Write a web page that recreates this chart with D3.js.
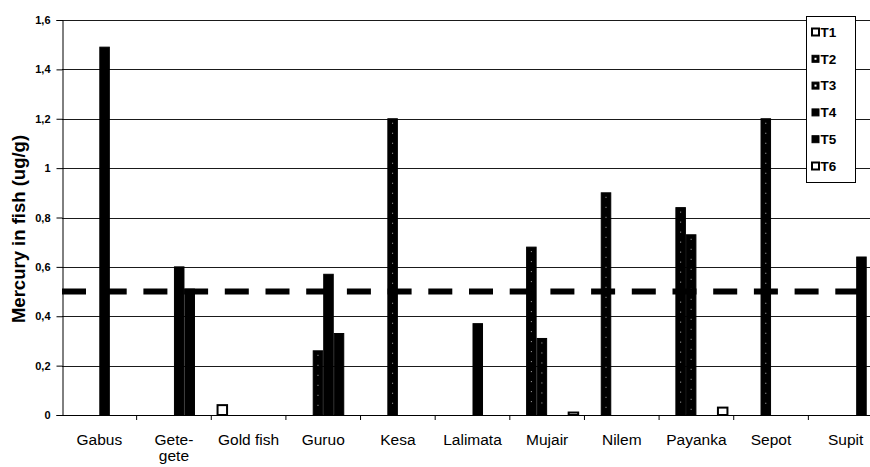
<!DOCTYPE html>
<html>
<head>
<meta charset="utf-8">
<script src="https://cdn.jsdelivr.net/npm/d3@7"></script>
<style>
  body { margin: 0; background: #fff; }
  svg { display: block; font-family: "Liberation Sans", Arial, sans-serif; }
</style>
</head>
<body>
<svg id="canvas" width="870" height="467"></svg>
<script>
const categories = ["Gabus", "Gete-gete", "Gold fish", "Guruo", "Kesa", "Lalimata", "Mujair", "Nilem", "Payanka", "Sepot", "Supit"]
const seriesNames = ["T1", "T2", "T3", "T4", "T5", "T6"]

// one value per category, null = no bar
const T1 = [null, null, 0.04, null, null, null, null, null, null, null, null]
const T2 = [null, null, null, null, null, null, 0.68, 0.90, 0.84, null, null]
const T3 = [null, null, null, 0.26, 1.20, null, 0.31, null, 0.73, 1.20, null]
const T4 = [1.49, 0.60, null, 0.57, null, 0.37, null, null, null, null, null]
const T5 = [null, 0.51, null, 0.33, null, null, null, null, null, null, 0.64]
const T6 = [null, null, null, null, null, null, 0.01, null, 0.03, null, null]

const limit = 0.5
const yTicks = [0, 0.2, 0.4, 0.6, 0.8, 1, 1.2, 1.4, 1.6]
const yTickLabels = ["0", "0,2", "0,4", "0,6", "0,8", "1", "1,2", "1,4", "1,6"]

const seriesValues = [T1, T2, T3, T4, T5, T6]
const fills = { T1: "#fff", T2: "#000", T3: "#000", T4: "#000", T5: "#000", T6: "#fff" }

let canvas = d3.select("#canvas")

let x = d3.scaleBand()
          .domain(categories)
          .range([62, 883])

let xSub = d3.scaleBand()
             .domain(seriesNames)
             .range([0, x.bandwidth()])
             .paddingOuter(0.55)

let y = d3.scaleLinear()
          .domain([0, 1.6])
          .range([415, 20])

// gridlines
canvas.append("g")
      .selectAll("line")
      .data(yTicks.slice(1))
      .enter()
      .append("line")
      .attr("x1", 62)
      .attr("x2", 870)
      .attr("y1", (d) => Math.round(y(d)) + 0.5)
      .attr("y2", (d) => Math.round(y(d)) + 0.5)
      .attr("stroke", "#1a1a1a")
      .attr("stroke-width", 1)

// y axis
let yAxis = d3.axisLeft(y)
              .tickValues(yTicks)
              .tickFormat((d, i) => yTickLabels[i])
              .tickSize(6)
              .tickPadding(6)

canvas.append("g")
      .attr("transform", "translate(62.5,0)")
      .call(yAxis)
      .call((g) => g.select(".domain").attr("stroke", "#000"))
      .call((g) => g.selectAll("text")
                    .attr("font-size", "11px")
                    .attr("font-weight", "bold")
                    .attr("fill", "#000")
                    .attr("font-family", "Liberation Sans, Arial, sans-serif"))

canvas.append("text")
      .attr("transform", "translate(25,229) rotate(-90)")
      .attr("text-anchor", "middle")
      .attr("font-size", "18.5px")
      .attr("font-weight", "bold")
      .text("Mercury in fish (ug/g)")

// bars
let rows = []
categories.forEach((c, i) => {
  seriesNames.forEach((s, j) => {
    let v = seriesValues[j][i]
    if (v !== null) rows.push({ category: c, series: s, value: v })
  })
})

let barG = canvas.append("g")

barG.selectAll("rect")
    .data(rows)
    .enter()
    .append("rect")
    .attr("x", (d) => x(d.category) + xSub(d.series) + 0.5)
    .attr("y", (d) => y(d.value))
    .attr("width", xSub.bandwidth() - 1)
    .attr("height", (d) => y(0) - y(d.value))
    .attr("fill", (d) => fills[d.series])
    .attr("stroke", "#000")
    .attr("stroke-width", (d) => fills[d.series] === "#fff" ? 2 : 1)

// speckle down the middle of the T2 / T3 bars
barG.selectAll("line")
    .data(rows.filter((d) => d.series === "T2" || d.series === "T3"))
    .enter()
    .append("line")
    .attr("x1", (d) => x(d.category) + xSub(d.series) + xSub.bandwidth() / 2)
    .attr("x2", (d) => x(d.category) + xSub(d.series) + xSub.bandwidth() / 2)
    .attr("y1", (d) => y(d.value) + 4)
    .attr("y2", (d) => y(0) - 4)
    .attr("stroke", "#fff")
    .attr("stroke-width", 1)
    .attr("stroke-dasharray", "1,9")
    .attr("opacity", 0.7)

// x axis
canvas.append("line")
      .attr("x1", 62)
      .attr("x2", 870)
      .attr("y1", y(0) + 0.5)
      .attr("y2", y(0) + 0.5)
      .attr("stroke", "#000")

canvas.append("g")
      .selectAll("line")
      .data(categories)
      .enter()
      .append("line")
      .attr("x1", (d) => x(d) + x.bandwidth())
      .attr("x2", (d) => x(d) + x.bandwidth())
      .attr("y1", y(0))
      .attr("y2", y(0) + 5)
      .attr("stroke", "#000")

let labels = canvas.append("g")
                   .selectAll("text")
                   .data(categories)
                   .enter()
                   .append("text")
                   .attr("x", (d) => x(d) + x.bandwidth() / 2)
                   .attr("y", y(0) + 30)
                   .attr("text-anchor", "middle")
                   .attr("font-size", "15.5px")

labels.each(function(d) {
  let parts = d.includes("-") ? [d.slice(0, d.indexOf("-") + 1), d.slice(d.indexOf("-") + 1)] : [d]
  let t = d3.select(this)
  parts.forEach((p, i) => {
    t.append("tspan")
     .attr("x", x(d) + x.bandwidth() / 2)
     .attr("dy", i === 0 ? 0 : 15.5)
     .text(p)
  })
})

// limit line
canvas.append("line")
      .attr("x1", 62)
      .attr("x2", 883)
      .attr("y1", y(limit))
      .attr("y2", y(limit))
      .attr("stroke", "#000")
      .attr("stroke-width", 6)
      .attr("stroke-dasharray", "24,16.7")

// legend
let legend = canvas.append("g")

legend.append("rect")
      .attr("x", 806.5)
      .attr("y", 16.5)
      .attr("width", 49)
      .attr("height", 166)
      .attr("fill", "#fff")
      .attr("stroke", "#000")

const g = legend.selectAll("g.item")
                .data(seriesNames)
                .enter()
                .append("g")
                .attr("class", "item")
                .attr("transform", (d, i) => "translate(0," + (32 + i * 26.8) + ")")

g.append("rect")
 .attr("x", 812)
 .attr("y", -3.5)
 .attr("width", 7)
 .attr("height", 7)
 .attr("fill", (d) => fills[d])
 .attr("stroke", "#000")
 .attr("stroke-width", (d) => fills[d] === "#fff" ? 2 : 1)

g.filter((d) => d === "T2" || d === "T3")
 .append("rect")
 .attr("x", 814.5)
 .attr("y", -1)
 .attr("width", 2)
 .attr("height", 2)
 .attr("fill", "#fff")

g.append("text")
 .attr("x", 820.5)
 .attr("y", 4.8)
 .attr("font-size", "13.5px")
 .attr("font-weight", "bold")
 .text((d) => d)
</script>
</body>
</html>
